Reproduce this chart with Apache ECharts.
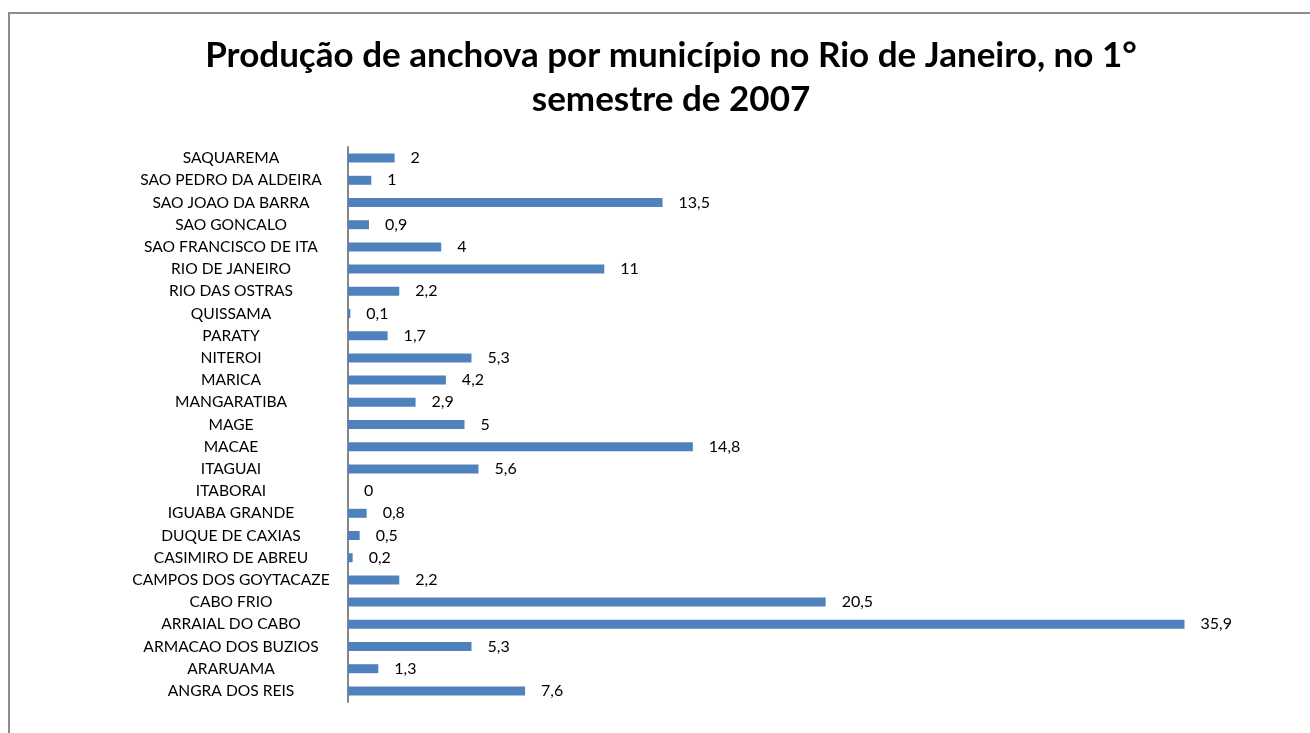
<!DOCTYPE html>
<html>
<head>
<meta charset="utf-8">
<script src="https://cdn.jsdelivr.net/npm/echarts@6/dist/echarts.min.js"></script>
<style>
  html, body { margin: 0; padding: 0; background: #ffffff; overflow: hidden; }
  #frame { position: absolute; left: 8px; top: 12px; width: 1400px; height: 800px;
           border-left: 2px solid #8c8c8c; border-top: 2px solid #8c8c8c; box-sizing: border-box; }
  #chart { position: absolute; left: 0; top: 0; width: 1310px; height: 733px; }
</style>
</head>
<body>
<div id="frame"></div>
<div id="chart"></div>
<script>
// Municipalities, listed bottom to top as they appear on the category axis
const municipios = [
  'ANGRA DOS REIS', 'ARARUAMA', 'ARMACAO DOS BUZIOS', 'ARRAIAL DO CABO', 'CABO FRIO',
  'CAMPOS DOS GOYTACAZE', 'CASIMIRO DE ABREU', 'DUQUE DE CAXIAS', 'IGUABA GRANDE', 'ITABORAI',
  'ITAGUAI', 'MACAE', 'MAGE', 'MANGARATIBA', 'MARICA',
  'NITEROI', 'PARATY', 'QUISSAMA', 'RIO DAS OSTRAS', 'RIO DE JANEIRO',
  'SAO FRANCISCO DE ITA', 'SAO GONCALO', 'SAO JOAO DA BARRA', 'SAO PEDRO DA ALDEIRA', 'SAQUAREMA'
];

// Anchovy production per municipality
const producao = [
  7.6, 1.3, 5.3, 35.9, 20.5,
  2.2, 0.2, 0.5, 0.8, 0,
  5.6, 14.8, 5, 2.9, 4.2,
  5.3, 1.7, 0.1, 2.2, 11,
  4, 0.9, 13.5, 1, 2
];

const tituloLinhas = [
  'Produção de anchova por município no Rio de Janeiro, no 1°',
  'semestre de 2007'
];

const fonte = 'Lato, "Open Sans", "Liberation Sans", sans-serif';

const chart = echarts.init(document.getElementById('chart'), null, { renderer: 'canvas' });

chart.setOption({
  backgroundColor: 'transparent',
  animation: false,
  // two-line bold title, centred over the plot
  graphic: tituloLinhas.map((linha, i) => ({
    type: 'text',
    x: 671,
    y: 56 + i * 44,
    style: {
      text: linha,
      fontFamily: fonte,
      fontSize: 35,
      fontWeight: 'bold',
      fill: '#000000',
      align: 'center',
      verticalAlign: 'middle'
    }
  })),
  grid: {
    left: 348,
    right: 30,
    top: 147,
    bottom: 31,
    containLabel: false
  },
  xAxis: {
    type: 'value',
    min: 0,
    max: 40,
    interval: 5,
    show: false
  },
  yAxis: {
    type: 'category',
    data: municipios,
    axisLine: { show: true, lineStyle: { color: '#868686', width: 2 } },
    axisTick: { show: false },
    splitLine: { show: false },
    axisLabel: {
      fontFamily: fonte,
      fontSize: 15.6,
      color: '#000000',
      align: 'center',
      margin: 117
    }
  },
  series: [{
    type: 'bar',
    data: producao,
    barWidth: 9,
    itemStyle: { color: '#4F81BD' },
    label: {
      show: true,
      position: 'right',
      distance: 16,
      fontFamily: fonte,
      fontSize: 16,
      color: '#000000',
      formatter: p => String(p.value).replace('.', ',')
    }
  }]
});
</script>
</body>
</html>
